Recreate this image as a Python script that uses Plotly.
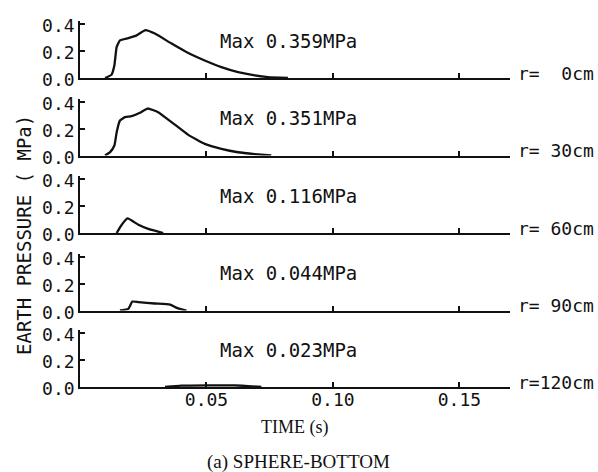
import plotly.graph_objects as go

# ---- data ----
radii_labels = ["r=  0cm", "r= 30cm", "r= 60cm", "r= 90cm", "r=120cm"]
max_labels = ["Max 0.359MPa", "Max 0.351MPa", "Max 0.116MPa", "Max 0.044MPa", "Max 0.023MPa"]

t_r0 = [0.0099, 0.0125, 0.0136, 0.0145, 0.0158, 0.0191, 0.0224, 0.0259, 0.0296, 0.0362,
        0.0428, 0.0493, 0.0559, 0.0625, 0.0691, 0.0743, 0.0822]
p_r0 = [0.0, 0.025, 0.094, 0.23, 0.279, 0.296, 0.316, 0.355, 0.329, 0.255,
        0.185, 0.13, 0.081, 0.044, 0.02, 0.007, 0.0]

t_r30 = [0.0099, 0.0119, 0.0136, 0.0145, 0.0158, 0.0178, 0.0204, 0.0237, 0.0267, 0.0309,
         0.0362, 0.0428, 0.0493, 0.0559, 0.0625, 0.0691, 0.0756]
p_r30 = [0.0, 0.025, 0.074, 0.173, 0.259, 0.284, 0.291, 0.316, 0.348, 0.321,
         0.247, 0.153, 0.086, 0.049, 0.024, 0.01, 0.0]

t_r60 = [0.0145, 0.0165, 0.0188, 0.0231, 0.027, 0.0329]
p_r60 = [0.0, 0.061, 0.108, 0.061, 0.03, 0.0]

t_r90 = [0.0158, 0.0191, 0.0207, 0.0231, 0.0296, 0.0356, 0.0382, 0.0421]
p_r90 = [0.0, 0.012, 0.066, 0.062, 0.052, 0.044, 0.02, 0.0]

t_r120 = [0.0336, 0.0401, 0.0612, 0.0717]
p_r120 = [0.0, 0.01, 0.012, 0.0]

y_tickvals = [0.0, 0.2, 0.4]
y_ticktext = ["0.0", "0.2", "0.4"]
x_tickvals = [0.05, 0.10, 0.15]
x_ticktext = ["0.05", "0.10", "0.15"]

series = [(t_r0, p_r0), (t_r30, p_r30), (t_r60, p_r60), (t_r90, p_r90), (t_r120, p_r120)]

# ---- layout geometry ----
W, H = 598, 472
L, R = 80, 88
PW = W - L - R
baselines = [78, 155.5, 233, 310.5, 387]
ppm = 135.0
y_range = [0, 0.42]
ink = "#111111"
mono = "DejaVu Sans Mono"
serif = "Liberation Serif"

fig = go.Figure()
layout = dict(
    width=W, height=H,
    margin=dict(l=L, r=R, t=0, b=0, autoexpand=False),
    paper_bgcolor="white", plot_bgcolor="white",
    showlegend=False,
)
annotations = []
for i, (t, p) in enumerate(series):
    n = "" if i == 0 else str(i + 1)
    fig.add_trace(go.Scatter(x=t, y=p, mode="lines",
                             line=dict(color=ink, width=2.3, shape="spline", smoothing=0.4),
                             xaxis="x" + n, yaxis="y" + n, hoverinfo="skip"))
    b = baselines[i]
    top = b - y_range[1] * ppm
    layout["yaxis" + n] = dict(
        domain=[1 - b / H, 1 - top / H], range=y_range,
        tickvals=y_tickvals, ticktext=y_ticktext,
        ticks="inside", ticklen=5, tickwidth=1.5, tickcolor=ink,
        showline=True, linecolor=ink, linewidth=1.6,
        showgrid=False, zeroline=False, anchor="x" + n,
        ticklabelshift=2,
        tickfont=dict(family=mono, size=18, color=ink), fixedrange=True,
    )
    xa = dict(
        domain=[0, 1], range=[0, 0.17], anchor="y" + n,
        tickvals=x_tickvals, ticktext=x_ticktext, showticklabels=(i == 4),
        ticks="inside", ticklen=5, tickwidth=1.5, tickcolor=ink,
        showline=True, linecolor=ink, linewidth=1.6,
        showgrid=False, zeroline=False, fixedrange=True,
        ticklabelstandoff=-4,
        tickfont=dict(family=mono, size=18, color=ink),
    )
    if i > 0:
        xa["matches"] = "x"
    layout["xaxis" + n] = xa
    annotations.append(dict(text=max_labels[i], xref="x" + n, yref="y" + n,
                            x=0.0546, y=0.275, xanchor="left", yanchor="middle",
                            showarrow=False, font=dict(family=mono, size=19, color=ink)))
    annotations.append(dict(text=radii_labels[i], xref="paper", yref="y" + n,
                            x=(516 - L) / PW, y=0.037, xanchor="left", yanchor="middle",
                            showarrow=False, font=dict(family=mono, size=18, color=ink)))

annotations.append(dict(text="EARTH PRESSURE ( MPa)", xref="paper", yref="paper",
                        x=(24 - L) / PW, y=1 - 235 / H, xanchor="center", yanchor="middle",
                        textangle=-90, showarrow=False,
                        font=dict(family=mono, size=19, color=ink)))
annotations.append(dict(text="TIME (s)", xref="paper", yref="paper",
                        x=(294 - L) / PW, y=1 - 427 / H, xanchor="center", yanchor="middle",
                        showarrow=False, font=dict(family=serif, size=18, color=ink)))
annotations.append(dict(text="(a) SPHERE-BOTTOM", xref="paper", yref="paper",
                        x=(298 - L) / PW, y=1 - 462 / H, xanchor="center", yanchor="middle",
                        showarrow=False, font=dict(family=serif, size=19, color=ink)))
layout["annotations"] = annotations
fig.update_layout(**layout)
fig.write_html("out.html")
